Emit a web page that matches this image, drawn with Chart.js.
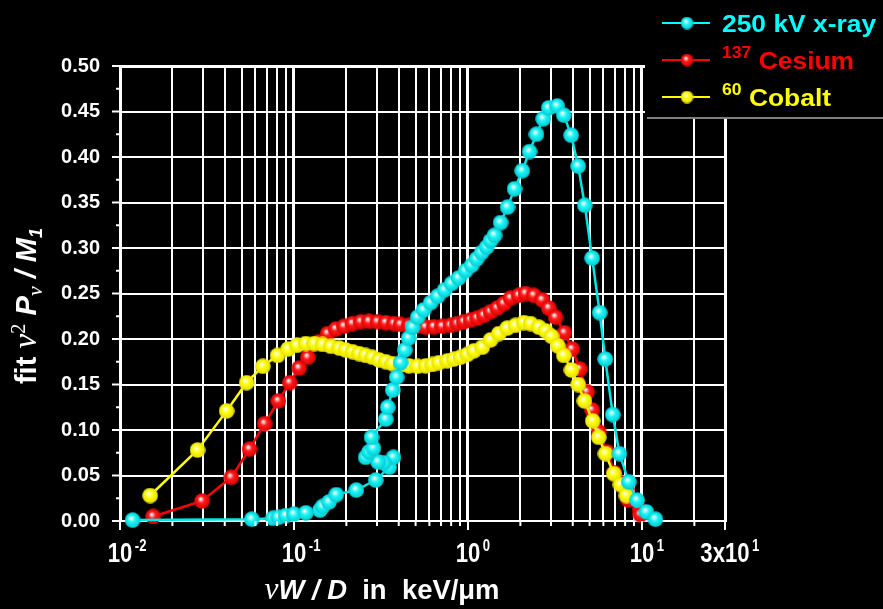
<!DOCTYPE html>
<html>
<head>
<meta charset="utf-8">
<script src="https://cdn.jsdelivr.net/npm/chart.js@4.4.0/dist/chart.umd.min.js"></script>
<style>
  html, body { margin: 0; padding: 0; background: #000; }
  canvas { display: block; background: #000; }
</style>
</head>
<body>
<canvas id="plot" width="883" height="609"></canvas>
<script>
// 250 kV x-ray
const cyanX = [0.0118, 0.0572, 0.0755, 0.0813, 0.0897, 0.100, 0.117, 0.141, 0.146, 0.159, 0.175, 0.228, 0.295, 0.352, 0.373, 0.328, 0.304, 0.258, 0.270, 0.286, 0.279, 0.337, 0.346, 0.369, 0.389, 0.410, 0.433, 0.456, 0.481, 0.514, 0.556, 0.610, 0.669, 0.734, 0.805, 0.883, 0.969, 1.049, 1.121, 1.197, 1.279, 1.348, 1.421, 1.539, 1.688, 1.851, 2.050, 2.258, 2.476, 2.706, 2.913, 3.256, 3.552, 3.917, 4.297, 4.690, 5.171, 5.709, 6.150, 6.790, 7.420, 8.390, 9.370, 10.6, 11.94];
const cyanY = [0.001, 0.002, 0.003, 0.004, 0.006, 0.0075, 0.009, 0.012, 0.016, 0.021, 0.029, 0.034, 0.045, 0.059, 0.070, 0.064, 0.065, 0.070, 0.076, 0.080, 0.092, 0.112, 0.125, 0.144, 0.158, 0.174, 0.188, 0.201, 0.213, 0.224, 0.232, 0.240, 0.247, 0.254, 0.261, 0.267, 0.275, 0.281, 0.288, 0.295, 0.301, 0.308, 0.314, 0.328, 0.345, 0.365, 0.385, 0.406, 0.425, 0.442, 0.454, 0.456, 0.446, 0.424, 0.390, 0.347, 0.289, 0.229, 0.178, 0.117, 0.074, 0.043, 0.023, 0.010, 0.002];

// 137 Cesium
const redX = [0.0155, 0.0296, 0.0436, 0.0555, 0.0678, 0.0813, 0.0946, 0.107, 0.120, 0.139, 0.156, 0.174, 0.194, 0.217, 0.242, 0.270, 0.302, 0.337, 0.376, 0.410, 0.458, 0.512, 0.571, 0.637, 0.712, 0.794, 0.868, 0.947, 1.035, 1.131, 1.234, 1.348, 1.473, 1.607, 1.756, 1.960, 2.141, 2.389, 2.670, 2.913, 3.184, 3.585, 3.969, 4.389, 4.838, 5.171, 5.642, 6.305, 6.943, 7.57, 8.21, 8.36, 9.70, 9.79];
const redY = [0.005, 0.022, 0.048, 0.079, 0.107, 0.132, 0.152, 0.168, 0.180, 0.197, 0.206, 0.211, 0.214, 0.217, 0.219, 0.2195, 0.219, 0.218, 0.217, 0.216, 0.215, 0.214, 0.213, 0.2135, 0.214, 0.215, 0.217, 0.219, 0.221, 0.223, 0.226, 0.230, 0.234, 0.239, 0.245, 0.248, 0.250, 0.248, 0.243, 0.234, 0.224, 0.207, 0.189, 0.167, 0.142, 0.122, 0.098, 0.076, 0.053, 0.042, 0.035, 0.023, 0.013, 0.007];

// 60 Cobalt
const yellowX = [0.0149, 0.0279, 0.0410, 0.0534, 0.0662, 0.0804, 0.0925, 0.104, 0.117, 0.131, 0.146, 0.163, 0.182, 0.198, 0.217, 0.236, 0.258, 0.282, 0.308, 0.337, 0.368, 0.410, 0.458, 0.512, 0.571, 0.624, 0.681, 0.761, 0.830, 0.907, 0.991, 1.081, 1.208, 1.348, 1.505, 1.681, 1.876, 2.094, 2.288, 2.553, 2.790, 3.020, 3.282, 3.552, 3.933, 4.297, 4.671, 5.212, 5.642, 6.166, 6.880, 7.520, 8.140];
const yellowY = [0.028, 0.078, 0.121, 0.152, 0.170, 0.182, 0.189, 0.193, 0.195, 0.195, 0.194, 0.192, 0.190, 0.188, 0.186, 0.184, 0.182, 0.180, 0.177, 0.175, 0.173, 0.1715, 0.1705, 0.170, 0.1705, 0.172, 0.174, 0.176, 0.178, 0.180, 0.183, 0.187, 0.191, 0.199, 0.206, 0.212, 0.215, 0.218, 0.217, 0.213, 0.209, 0.203, 0.1925, 0.182, 0.166, 0.150, 0.132, 0.110, 0.092, 0.074, 0.052, 0.040, 0.028];

// axis ticks
const xGrid = [0.01, 0.02, 0.03, 0.04, 0.05, 0.06, 0.07, 0.08, 0.09,
  0.1, 0.2, 0.3, 0.4, 0.5, 0.6, 0.7, 0.8, 0.9,
  1, 2, 3, 4, 5, 6, 7, 8, 9, 10, 20, 30];
const xTickLabels = [
  { v: 0.01, base: '10', exp: '-2' },
  { v: 0.1, base: '10', exp: '-1' },
  { v: 1, base: '10', exp: '0' },
  { v: 10, base: '10', exp: '1' },
  { v: 30, base: '3x10', exp: '1' }
];
const legendItems = [
  { sup: '', text: '250 kV x-ray', color: '#00ffff' },
  { sup: '137', text: 'Cesium', color: '#ff0000' },
  { sup: '60', text: 'Cobalt', color: '#ffff00' }
];

const SANS = '"Liberation Sans", Arial, sans-serif';
const SERIF = '"Liberation Serif", "Times New Roman", serif';

function pts(xs, ys) {
  return xs.map((x, i) => ({ x: x, y: ys[i] }));
}

// shaded ball used as point marker
function sphere(base, dark, d) {
  const c = document.createElement('canvas');
  c.width = d; c.height = d;
  const g = c.getContext('2d');
  const r = d / 2;
  const grad = g.createRadialGradient(r * 0.8, r * 0.72, r * 0.05, r, r, r);
  grad.addColorStop(0, '#ffffff');
  grad.addColorStop(0.4, base);
  grad.addColorStop(1, dark);
  g.fillStyle = grad;
  g.beginPath();
  g.arc(r, r, r - 0.2, 0, Math.PI * 2);
  g.fill();
  return c;
}

const cyanDot = sphere('#20f6f6', '#00c8d0', 16);
const redDot = sphere('#ff1a1a', '#d80000', 16);
const yellowDot = sphere('#ffff10', '#e4dc00', 16);
const legendDots = [sphere('#20f6f6', '#00c8d0', 13), sphere('#ff1a1a', '#d80000', 13), sphere('#ffff10', '#e4dc00', 13)];

function richText(ctx, segs, x, y, align, sx) {
  let w = 0;
  segs.forEach(s => { ctx.font = s.font; s.w = ctx.measureText(s.t).width; w += s.w; });
  let cx = align === 'center' ? -w / 2 : 0;
  ctx.save();
  ctx.translate(x, y);
  ctx.scale(sx, 1);
  ctx.textAlign = 'left';
  ctx.textBaseline = 'alphabetic';
  segs.forEach(s => {
    ctx.font = s.font;
    ctx.fillText(s.t, cx, s.dy || 0);
    cx += s.w;
  });
  ctx.restore();
}

function isDecade(v) {
  const l = Math.log10(v);
  return Math.abs(l - Math.round(l)) < 1e-6;
}

const deco = {
  id: 'deco',
  afterDraw(chart) {
    const ctx = chart.ctx;
    const a = chart.chartArea;
    const xs = chart.scales.x, ys = chart.scales.y;
    ctx.save();
    ctx.strokeStyle = '#ffffff';
    ctx.fillStyle = '#ffffff';
    ctx.lineWidth = 2;

    // y tick marks
    for (let i = 0; i <= 20; i++) {
      const py = ys.getPixelForValue(i * 0.025);
      const len = i % 2 === 0 ? 8 : 4;
      ctx.beginPath();
      ctx.moveTo(a.left, py);
      ctx.lineTo(a.left - len, py);
      ctx.stroke();
    }
    // x tick marks
    xGrid.forEach(v => {
      const px = xs.getPixelForValue(v);
      const major = isDecade(v) || v === 30;
      ctx.beginPath();
      ctx.moveTo(px, a.bottom);
      ctx.lineTo(px, a.bottom + (major ? 9 : 5));
      ctx.stroke();
    });

    // x tick labels
    xTickLabels.forEach(t => {
      const px = xs.getPixelForValue(t.v);
      ctx.save();
      ctx.translate(px, 562);
      ctx.scale(0.82, 1);
      ctx.font = 'bold 27px ' + SANS;
      const bw = ctx.measureText(t.base).width;
      ctx.textAlign = 'center';
      ctx.fillText(t.base, 0, 0);
      ctx.textAlign = 'left';
      ctx.font = 'bold 16px ' + SANS;
      ctx.fillText(t.exp, bw / 2 + 3, -11);
      ctx.restore();
    });

    // x title
    richText(ctx, [
      { t: 'ν', font: 'italic 32px ' + SERIF },
      { t: 'W / D', font: 'bold italic 28px ' + SANS },
      { t: '  in  keV/μm', font: 'bold 28px ' + SANS }
    ], 382, 599, 'center', 0.98);

    // y title
    ctx.save();
    ctx.translate(25, 306);
    ctx.rotate(-Math.PI / 2);
    richText(ctx, [
      { t: 'fit ', font: 'bold 29px ' + SANS },
      { t: 'ν', font: 'italic 33px ' + SERIF },
      { t: '2', font: '21px ' + SERIF, dy: -11 },
      { t: ' P', font: 'bold italic 29px ' + SANS },
      { t: 'ν', font: 'italic 22px ' + SERIF, dy: 6 },
      { t: ' / M', font: 'bold italic 29px ' + SANS },
      { t: '1', font: 'bold italic 18px ' + SANS, dy: 6 }
    ], 0, 11, 'center', 1);
    ctx.restore();

    // legend box
    ctx.fillStyle = '#000000';
    ctx.fillRect(645, 0, 238, 117);
    ctx.strokeStyle = '#808080';
    ctx.lineWidth = 2;
    ctx.beginPath();
    ctx.moveTo(647, 118);
    ctx.lineTo(883, 118);
    ctx.stroke();

    legendItems.forEach((it, i) => {
      const ly = 23 + i * 37;
      ctx.strokeStyle = it.color;
      ctx.lineWidth = 2;
      ctx.beginPath();
      ctx.moveTo(662, ly);
      ctx.lineTo(710, ly);
      ctx.stroke();
      const d = legendDots[i];
      ctx.drawImage(d, 687 - d.width / 2, ly - d.height / 2);
      ctx.fillStyle = it.color;
      const segs = [];
      if (it.sup) {
        segs.push({ t: it.sup, font: 'bold 16px ' + SANS, dy: -11 });
        segs.push({ t: ' ', font: 'bold 24px ' + SANS });
      }
      segs.push({ t: it.text, font: 'bold 24px ' + SANS });
      richText(ctx, segs, 722, ly + 9, 'left', 1.1);
    });
    ctx.restore();
  }
};

new Chart(document.getElementById('plot'), {
  type: 'line',
  data: {
    datasets: [
      {
        label: '250 kV x-ray',
        data: pts(cyanX, cyanY),
        borderColor: '#00e6e6',
        borderWidth: 2.5,
        pointStyle: cyanDot,
        pointRadius: 8,
        order: 0,
        clip: 12
      },
      {
        label: '137 Cesium',
        data: pts(redX, redY),
        borderColor: '#ff0000',
        borderWidth: 2.5,
        pointStyle: redDot,
        pointRadius: 8,
        order: 2,
        clip: 12
      },
      {
        label: '60 Cobalt',
        data: pts(yellowX, yellowY),
        borderColor: '#ffff00',
        borderWidth: 2.5,
        pointStyle: yellowDot,
        pointRadius: 8,
        order: 1,
        clip: 12
      }
    ]
  },
  options: {
    animation: false,
    responsive: false,
    devicePixelRatio: 1,
    events: [],
    layout: { padding: { left: 0, top: 66, right: 158, bottom: 0 } },
    elements: { line: { tension: 0 } },
    plugins: { legend: { display: false }, tooltip: { enabled: false } },
    scales: {
      x: {
        type: 'logarithmic',
        min: 0.01,
        max: 30,
        afterBuildTicks: s => { s.ticks = xGrid.map(v => ({ value: v })); },
        afterFit: s => { s.height = 88; },
        ticks: { display: false },
        grid: {
          color: '#ffffff',
          lineWidth: c => (c.tick && (isDecade(c.tick.value) || c.tick.value === 30)) ? 3 : 2,
          drawTicks: false
        },
        border: { display: true, color: '#ffffff', width: 2 }
      },
      y: {
        type: 'linear',
        min: 0,
        max: 0.5,
        afterFit: s => { s.width = 120; },
        ticks: {
          stepSize: 0.05,
          color: '#ffffff',
          padding: 20,
          font: { family: 'Liberation Sans', size: 20, weight: 'bold' },
          callback: v => v.toFixed(2)
        },
        grid: {
          color: '#ffffff',
          lineWidth: c => (c.tick && c.tick.value >= 0.4999) ? 3 : 2,
          drawTicks: false
        },
        border: { display: true, color: '#ffffff', width: 2 }
      }
    }
  },
  plugins: [deco]
});
</script>
</body>
</html>
